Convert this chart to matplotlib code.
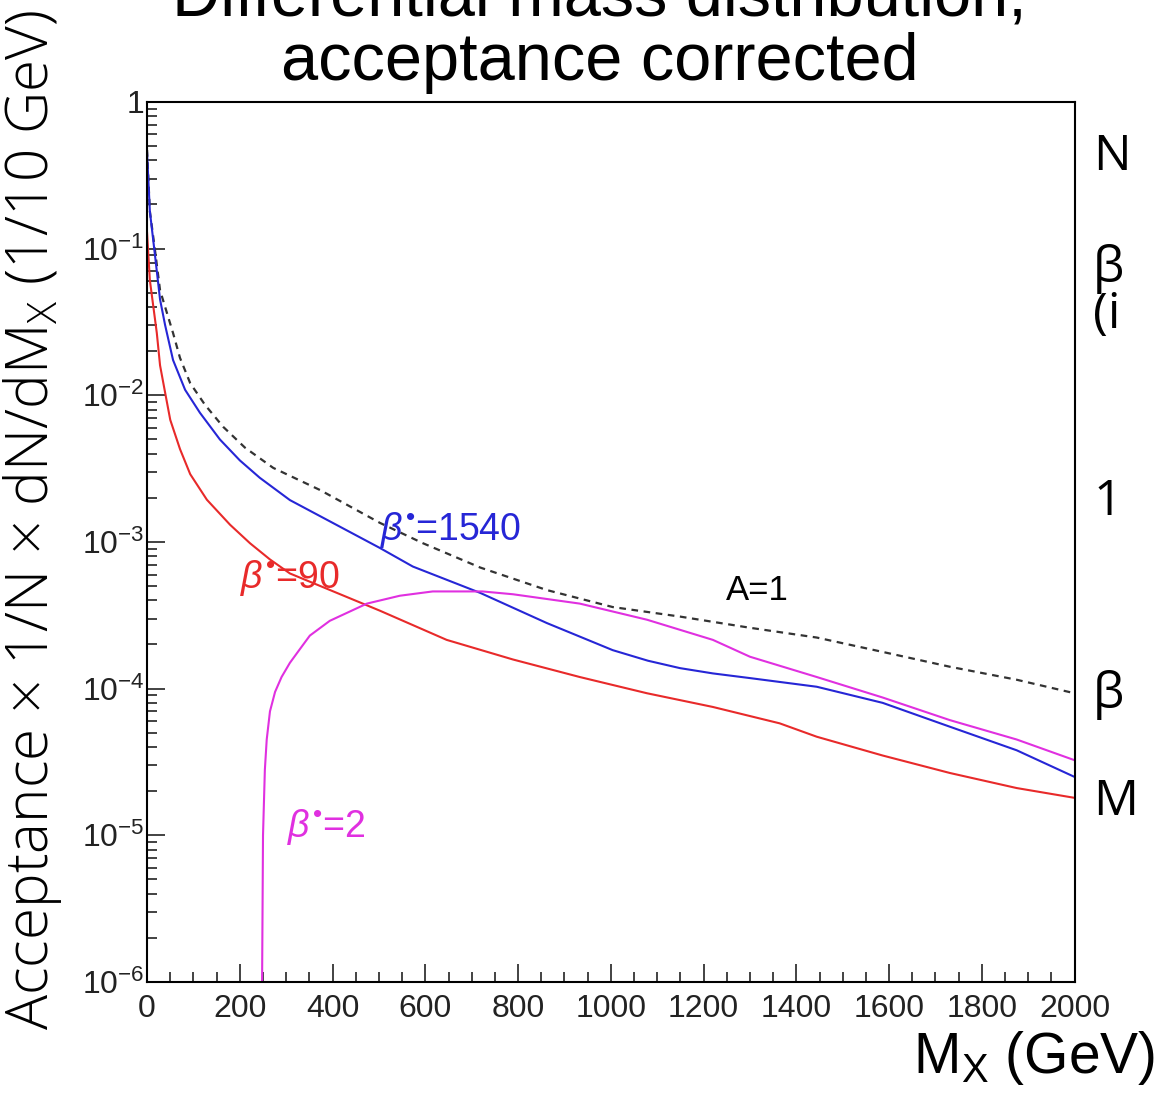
import matplotlib
matplotlib.use('Agg')
import matplotlib.pyplot as plt
import numpy as np
from matplotlib.ticker import MultipleLocator, LogLocator, FuncFormatter, NullFormatter

#############################################
# curves (M_X in GeV)
#############################################

# A=1 (no acceptance), dashed
m_a1 = [0, 6, 17, 28, 56, 71, 93, 125, 164, 211, 272, 373, 502, 595, 718, 862, 1004, 1149, 1300,
        1444, 1586, 1731, 1875, 2000]
y_a1 = [0.47, 0.18, 0.098, 0.052, 0.0266, 0.018, 0.0121, 0.0086, 0.0061, 0.0044, 0.0032, 2.26e-3,
        1.35e-3, 9.8e-4, 6.7e-4, 4.7e-4, 3.6e-4, 3.1e-4, 2.6e-4, 2.23e-4, 1.78e-4, 1.41e-4, 1.15e-4, 9.3e-5]

# beta*=1540
m_b1540 = [0, 6, 17, 28, 39, 56, 82, 114, 157, 200, 243, 308, 502, 573, 718, 862, 1004, 1080, 1149,
           1220, 1300, 1444, 1586, 1731, 1875, 2000]
y_b1540 = [0.45, 0.18, 0.0906, 0.045, 0.030, 0.0174, 0.0109, 0.0076, 0.0050, 0.0036, 0.00274, 1.93e-3,
           9.1e-4, 6.8e-4, 4.5e-4, 2.8e-4, 1.83e-4, 1.55e-4, 1.38e-4, 1.27e-4, 1.18e-4, 1.03e-4, 8.0e-5,
           5.5e-5, 3.8e-5, 2.5e-5]

# beta*=90
m_b90 = [0, 6, 21, 28, 39, 50, 71, 93, 129, 179, 222, 265, 308, 502, 646, 789, 933, 1078, 1220, 1364,
         1444, 1586, 1731, 1875, 2000]
y_b90 = [0.128, 0.061, 0.0266, 0.016, 0.0104, 0.0068, 0.0043, 0.0029, 1.94e-3, 1.31e-3, 9.8e-4, 7.6e-4,
         6.1e-4, 3.4e-4, 2.15e-4, 1.58e-4, 1.2e-4, 9.3e-5, 7.5e-5, 5.8e-5, 4.7e-5, 3.5e-5, 2.66e-5,
         2.1e-5, 1.8e-5]

# beta*=2
m_b2 = [248, 250, 254, 258, 265, 276, 290, 308, 329, 351, 394, 474, 545, 616, 723, 789, 933, 1078, 1220,
        1300, 1444, 1586, 1731, 1875, 2000]
y_b2 = [1e-6, 1.0e-5, 2.8e-5, 4.5e-5, 7.0e-5, 9.5e-5, 1.2e-4, 1.5e-4, 1.85e-4, 2.3e-4, 2.9e-4, 3.8e-4,
        4.3e-4, 4.6e-4, 4.6e-4, 4.4e-4, 3.8e-4, 2.95e-4, 2.15e-4, 1.65e-4, 1.2e-4, 8.7e-5, 6.1e-5,
        4.5e-5, 3.25e-5]

x_ticks = [0, 200, 400, 600, 800, 1000, 1200, 1400, 1600, 1800, 2000]

c_blue = '#2626d6'
c_red = '#e82a2a'
c_mag = '#e030e0'

plt.rcParams['mathtext.default'] = 'regular'
plt.rcParams['mathtext.fontset'] = 'custom'
plt.rcParams['mathtext.rm'] = 'Liberation Sans'
plt.rcParams['mathtext.it'] = 'Liberation Sans:italic'

fig = plt.figure(figsize=(11.58, 10.94), dpi=100)
ax = fig.add_axes([0.127, 0.1024, 0.801, 0.8044])

ax.plot(m_a1, y_a1, color='#333333', lw=1.6, linestyle=(0, (3, 2.5)))
ax.plot(m_b1540, y_b1540, color=c_blue, lw=1.5)
ax.plot(m_b90, y_b90, color=c_red, lw=1.5)
ax.plot(m_b2, y_b2, color=c_mag, lw=1.5)

ax.set_yscale('log')
ax.set_xlim(0, 2000)
ax.set_ylim(1e-6, 1)

# ROOT style ticks
ax.set_xticks(x_ticks)
ax.xaxis.set_minor_locator(MultipleLocator(50))
ax.yaxis.set_major_locator(LogLocator(base=10, numticks=10))
ax.yaxis.set_minor_locator(LogLocator(base=10, subs=np.arange(2, 10), numticks=20))
ax.yaxis.set_minor_formatter(NullFormatter())

def ylab(v, pos):
    e = int(round(np.log10(v)))
    if e == 0:
        return r'1$^{\ \ \ \ \ \ \ }$'
    return r'$10^{%d}$' % e

ax.yaxis.set_major_formatter(FuncFormatter(ylab))
ax.tick_params(which='both', direction='in', top=False, right=False, colors='#222222',
               labelsize=23, width=1.2)
ax.tick_params(which='major', length=13)
ax.tick_params(which='minor', length=7)
ax.tick_params(axis='y', which='major', pad=2)
ax.tick_params(axis='x', which='major', pad=9)
for lab in ax.get_xticklabels() + ax.get_yticklabels():
    lab.set_family('Liberation Sans')
for s in ax.spines.values():
    s.set_linewidth(1.5)

# curve labels
ax.text(502, 1.2e-3, r'$\mathit{\beta}^{•}$=1540', color=c_blue, fontsize=27, va='center',
        family='Liberation Sans')
ax.text(200, 5.7e-4, r'$\mathit{\beta}^{•}$=90', color=c_red, fontsize=27, va='center',
        family='Liberation Sans')
ax.text(1248, 4.7e-4, 'A=1', color='black', fontsize=25, va='center', family='Liberation Sans')
ax.text(302, 1.14e-5, r'$\mathit{\beta}^{•}$=2', color=c_mag, fontsize=27, va='center',
        family='Liberation Sans')

# slide texts
fig.text(0.518, 1 - 15 / 1094, 'Differential mass distribution,', ha='center', va='baseline',
         fontsize=48, family='Liberation Sans')
fig.text(0.518, 1 - 80 / 1094, 'acceptance corrected', ha='center', va='baseline',
         fontsize=48, family='Liberation Sans')
fig.text(0.998, 1 - 1073 / 1094, r'M$_X$ (GeV)', ha='right', va='baseline',
         fontsize=41, family='Liberation Sans')
fig.text(64 / 1158, 1 - 1030 / 1094, r'Acceptance $\times$ 1/N $\times$ dN/dM$_X$ (1/10 GeV)', rotation=90,
         ha='right', va='bottom', fontsize=42, family='Open Sans', fontweight='light')

side = ['N', 'β', '(i', '1', 'β', 'M']
side_y = [170, 282, 328, 515, 708, 815]
for t, yy in zip(side, side_y):
    fig.text(1093 / 1158, 1 - yy / 1094, t, ha='left', va='baseline', fontsize=36, family='Open Sans')

fig.savefig('out.png', dpi=100)
